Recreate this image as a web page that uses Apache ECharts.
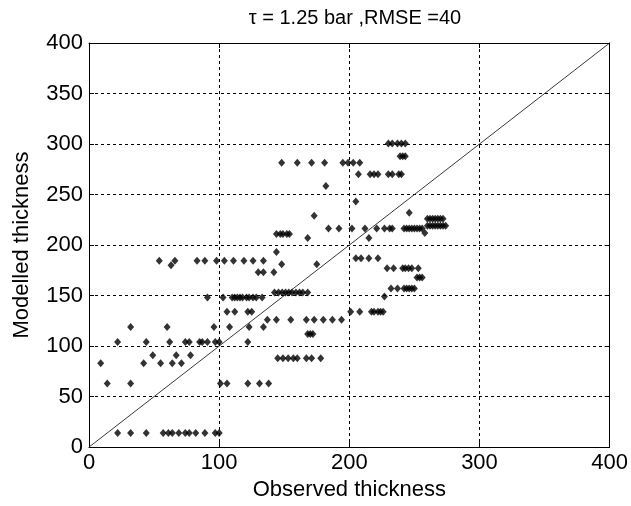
<!DOCTYPE html>
<html>
<head>
<meta charset="utf-8">
<title>Modelled vs observed thickness</title>
<script src="https://cdn.jsdelivr.net/npm/echarts@6/dist/echarts.min.js"></script>
<style>
  html, body { margin: 0; padding: 0; background: #fff; }
  #chart { width: 631px; height: 506px; }
</style>
</head>
<body>
<div id="chart"></div>
<script>
// Tick labels on both axes
var xTicks = [0, 100, 200, 300, 400];
var yTicks = [0, 50, 100, 150, 200, 250, 300, 350, 400];

// Modelled thickness levels, and the observed thickness of each point at that level
var modelledLevels = [
  14, 63, 83, 91, 88, 104, 112, 119, 126, 134,
  148, 153, 149, 157, 168, 173, 177, 181, 180, 184.5,
  187, 193, 207, 211, 212, 216.5, 219, 226, 229, 232,
  243, 258.5, 270, 281.5, 288, 300.5
];
var observedByLevel = [
  [22, 32, 44, 57, 61, 64, 69, 74, 77, 82, 89, 97, 100],
  [14, 32, 101, 106, 122, 131, 138],
  [9, 42, 55, 64, 71],
  [49, 67, 78],
  [145, 149, 153, 157, 160, 167, 171, 178],
  [22, 44, 62, 74, 77, 85, 87, 91, 97, 100, 122],
  [168, 170, 172],
  [32, 60, 96, 108, 123, 134],
  [137, 144, 155, 167, 173, 180, 187, 194],
  [106, 112, 122, 125, 201, 208, 217, 219, 222, 224, 226],
  [91, 103, 110, 112, 114, 116, 118, 121, 123, 126, 128.5, 133],
  [142.5, 145.6, 148.4, 151, 153.5, 156, 159, 161.7, 164.2, 168],
  [227],
  [232, 237, 242, 244, 246, 248, 250],
  [252, 254, 256],
  [130, 134, 142],
  [229, 234, 241, 243, 245.5, 248, 253],
  [148, 175],
  [63],
  [54, 66, 83, 89, 98, 104, 111, 119, 126, 134],
  [205, 209, 215, 222],
  [144],
  [168, 215],
  [144, 147, 149, 152, 154],
  [258],
  [184, 192, 202, 212, 221, 227, 231, 233, 242, 244, 246, 248, 250, 252, 254, 256],
  [260, 262, 264, 266, 268, 270, 272, 274],
  [260, 262, 264, 266, 268, 270, 272],
  [173],
  [246],
  [205],
  [182],
  [207, 216, 219, 222, 230, 233, 238, 240],
  [148, 160, 171, 181, 195, 199, 203, 208],
  [239, 241, 243],
  [230, 233, 237, 240, 243]
];

// 1:1 reference line
var oneToOne = [[0, 0], [400, 400]];

var points = [];
modelledLevels.forEach(function (y, i) {
  observedByLevel[i].forEach(function (x) { points.push([x, y]); });
});

var font = 'Liberation Sans, Arial, sans-serif';
var gridLine = { show: true, lineStyle: { color: '#000', width: 1, type: [3, 3] } };
var boxLine = { show: true, onZero: false, lineStyle: { color: '#000', width: 1 } };
var innerTick = { show: true, inside: true, length: 5, lineStyle: { color: '#000' } };

var chart = echarts.init(document.getElementById('chart'), null, { renderer: 'canvas' });
chart.setOption({
  animation: false,
  backgroundColor: '#fff',
  title: {
    text: '\u03c4 = 1.25 bar ,RMSE =40',
    left: 350, top: 3, textAlign: 'center',
    textStyle: { fontFamily: font, fontSize: 20, fontWeight: 'normal', color: '#000' }
  },
  grid: { left: 89, right: 20, top: 43, bottom: 57 },
  xAxis: [{
    type: 'value', min: xTicks[0], max: xTicks[xTicks.length - 1], interval: 100,
    name: 'Observed thickness', nameLocation: 'middle', nameGap: 31,
    nameTextStyle: { fontFamily: font, fontSize: 22, color: '#000' },
    axisLine: boxLine, axisTick: innerTick, splitLine: gridLine,
    axisLabel: { fontFamily: font, fontSize: 22, color: '#000', margin: 5 }
  }, {
    type: 'value', position: 'top', min: 0, max: 400, interval: 100,
    axisLine: boxLine, axisTick: innerTick, axisLabel: { show: false }, splitLine: { show: false }
  }],
  yAxis: [{
    type: 'value', min: yTicks[0], max: yTicks[yTicks.length - 1], interval: 50,
    name: 'Modelled thickness', nameLocation: 'middle', nameGap: 56,
    nameTextStyle: { fontFamily: font, fontSize: 22, color: '#000' },
    axisLine: boxLine, axisTick: innerTick, splitLine: gridLine,
    axisLabel: { fontFamily: font, fontSize: 22, color: '#000', margin: 6 }
  }, {
    type: 'value', position: 'right', min: 0, max: 400, interval: 50,
    axisLine: boxLine, axisTick: innerTick, axisLabel: { show: false }, splitLine: { show: false }
  }],
  series: [{
    type: 'line', data: oneToOne, showSymbol: false, silent: true,
    lineStyle: { color: '#222', width: 0.9 }, z: 3
  }, {
    type: 'scatter', data: points, symbol: 'diamond', symbolSize: [7, 8],
    itemStyle: { color: '#000' }, z: 4
  }]
});
</script>
</body>
</html>
